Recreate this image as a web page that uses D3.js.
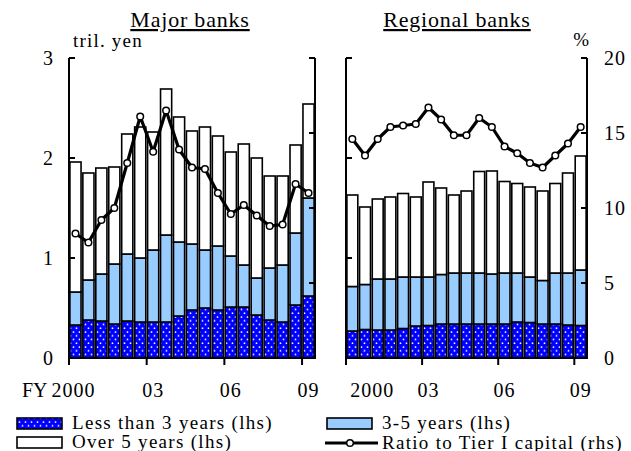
<!DOCTYPE html>
<html>
<head>
<meta charset="utf-8">
<script src="https://cdn.jsdelivr.net/npm/d3@7"></script>
<style>
  body { margin: 0; background: #fff; }
  svg text { font-family: "Liberation Serif", "Times New Roman", Tinos, serif; fill: #000; }
</style>
</head>
<body>
<svg id="chart" width="631" height="451"></svg>
<script>
// half-year periods, FY2000 H1 .. FY2009 H1
var periods = d3.range(19).map(function (i) { return (2000 + Math.floor(i / 2)) + (i % 2 ? "H2" : "H1"); });
var tickLabels = [{ i: 0, t: "2000" }, { i: 6, t: "03" }, { i: 12, t: "06" }, { i: 18, t: "09" }];

// Major banks (tril. yen)
var majorLt3  = [0.33, 0.38, 0.37, 0.34, 0.37, 0.36, 0.36, 0.36, 0.42, 0.48, 0.50, 0.48, 0.51, 0.51, 0.43, 0.38, 0.36, 0.53, 0.62];
var majorMid  = [0.33, 0.40, 0.47, 0.60, 0.67, 0.64, 0.72, 0.87, 0.74, 0.66, 0.58, 0.64, 0.51, 0.42, 0.37, 0.52, 0.57, 0.72, 0.98];
var majorOver = [1.30, 1.07, 1.06, 0.97, 1.20, 1.31, 1.18, 1.46, 1.25, 1.13, 1.23, 1.10, 1.04, 1.21, 1.20, 0.92, 0.89, 0.88, 0.94];
var majorRatio = [8.3, 7.7, 9.2, 10.0, 13.0, 16.1, 13.75, 16.5, 13.9, 12.7, 12.6, 11.0, 9.6, 10.2, 9.5, 8.8, 8.9, 11.6, 11.0];

// Regional banks (tril. yen)
var regLt3  = [0.27, 0.285, 0.28, 0.28, 0.295, 0.32, 0.325, 0.34, 0.34, 0.34, 0.34, 0.34, 0.34, 0.36, 0.355, 0.34, 0.34, 0.33, 0.325];
var regMid  = [0.445, 0.45, 0.51, 0.51, 0.515, 0.49, 0.485, 0.495, 0.51, 0.51, 0.51, 0.50, 0.51, 0.49, 0.455, 0.435, 0.51, 0.52, 0.555];
var regOver = [0.915, 0.775, 0.80, 0.82, 0.835, 0.80, 0.95, 0.865, 0.78, 0.82, 1.015, 1.03, 0.915, 0.895, 0.90, 0.895, 0.895, 1.00, 1.14];
var regRatio = [14.6, 13.5, 14.6, 15.4, 15.5, 15.6, 16.7, 15.9, 14.85, 14.85, 16.0, 15.4, 14.1, 13.65, 13.0, 12.7, 13.5, 14.3, 15.4];

var lhsTicks = [0, 1, 2, 3];
var rhsTicks = [0, 5, 10, 15, 20];

var svg = d3.select("#chart");
var defs = svg.append("defs");
var pat = defs.append("pattern")
    .attr("id", "dots")
    .attr("patternUnits", "userSpaceOnUse")
    .attr("width", 6).attr("height", 7.5);
pat.append("rect").attr("width", 6).attr("height", 7.5).attr("fill", "#0000ff");
pat.append("circle").attr("cx", 1.5).attr("cy", 2).attr("r", 0.9).attr("fill", "#fff");
pat.append("circle").attr("cx", 4.5).attr("cy", 5.75).attr("r", 0.9).attr("fill", "#fff");

var fills = ["url(#dots)", "#99ccff", "#ffffff"];
var plotTop = 58, plotBottom = 358;
var yL = d3.scaleLinear().domain([0, 3]).range([plotBottom, plotTop]);
var yR = d3.scaleLinear().domain([0, 20]).range([plotBottom, plotTop]);

function drawPanel(cfg) {
    var g = svg.append("g");
    var x = d3.scaleBand().domain(periods).range([cfg.x0, cfg.x1]).paddingInner(0.14).paddingOuter(0.07);
    var step = (cfg.x1 - cfg.x0) / periods.length;

    var rows = periods.map(function (p, i) {
        return { p: p, lt3: cfg.lt3[i], mid: cfg.mid[i], over: cfg.over[i] };
    });
    var series = d3.stack().keys(["lt3", "mid", "over"])(rows);

    g.selectAll("g.layer").data(series).enter().append("g")
        .attr("class", "layer")
        .attr("fill", function (d, i) { return fills[i]; })
      .selectAll("rect").data(function (d) { return d; }).enter().append("rect")
        .attr("x", function (d) { return x(d.data.p); })
        .attr("width", x.bandwidth())
        .attr("y", function (d) { return yL(d[1]); })
        .attr("height", function (d) { return yL(d[0]) - yL(d[1]); })
        .attr("stroke", "#000")
        .attr("stroke-width", 1.6);

    // axes: left, right, bottom
    var ax = g.append("g").attr("stroke", "#000").attr("stroke-width", 2);
    ax.append("line").attr("x1", cfg.x0).attr("x2", cfg.x0).attr("y1", plotTop).attr("y2", plotBottom);
    ax.append("line").attr("x1", cfg.x1).attr("x2", cfg.x1).attr("y1", plotTop).attr("y2", plotBottom);
    ax.append("line").attr("x1", cfg.x0 - 1).attr("x2", cfg.x1 + 1).attr("y1", plotBottom).attr("y2", plotBottom);
    ax.selectAll("line.tl").data(lhsTicks).enter().append("line")
        .attr("x1", cfg.x0).attr("x2", cfg.x0 + 6)
        .attr("y1", function (d) { return yL(d); }).attr("y2", function (d) { return yL(d); });
    ax.selectAll("line.tr").data(rhsTicks).enter().append("line")
        .attr("x1", cfg.x1).attr("x2", cfg.x1 - 6)
        .attr("y1", function (d) { return yR(d); }).attr("y2", function (d) { return yR(d); });
    ax.selectAll("line.tb").data(tickLabels).enter().append("line")
        .attr("x1", function (d) { return cfg.x0 + d.i * step; })
        .attr("x2", function (d) { return cfg.x0 + d.i * step; })
        .attr("y1", plotBottom).attr("y2", plotBottom + 7);

    // ratio line
    var line = d3.line()
        .x(function (d, i) { return x(periods[i]) + x.bandwidth() / 2; })
        .y(function (d) { return yR(d); });
    g.append("path").datum(cfg.ratio)
        .attr("d", line).attr("fill", "none")
        .attr("stroke", "#000").attr("stroke-width", 3.2).attr("stroke-linejoin", "round");
    g.selectAll("circle.pt").data(cfg.ratio).enter().append("circle")
        .attr("cx", function (d, i) { return x(periods[i]) + x.bandwidth() / 2; })
        .attr("cy", function (d) { return yR(d); })
        .attr("r", 3.3).attr("fill", "#fff").attr("stroke", "#000").attr("stroke-width", 1.5);

    // x labels
    g.selectAll("text.xl").data(tickLabels).enter().append("text")
        .attr("x", function (d) { return x(periods[d.i]) + x.bandwidth() / 2 + (d.i === 0 ? cfg.firstShift : 0); })
        .attr("y", 397)
        .attr("text-anchor", "middle")
        .style("font-size", "20px").style("letter-spacing", "1px")
        .text(function (d) { return d.t; });

    // title
    g.append("text").attr("x", cfg.titleX).attr("y", 27)
        .attr("text-anchor", "middle")
        .style("font-size", "22px").style("letter-spacing", "0.8px")
        .style("text-decoration", "underline")
        .text(cfg.title);
    return g;
}

drawPanel({ x0: 69, x1: 315, lt3: majorLt3, mid: majorMid, over: majorOver, ratio: majorRatio,
    title: "Major banks", titleX: 190, firstShift: -2 });
drawPanel({ x0: 346, x1: 587, lt3: regLt3, mid: regMid, over: regOver, ratio: regRatio,
    title: "Regional banks", titleX: 457, firstShift: 20 });

// y labels
svg.selectAll("text.yl").data(lhsTicks).enter().append("text")
    .attr("x", 53).attr("y", function (d) { return yL(d) + 7; })
    .attr("text-anchor", "end").style("font-size", "20px")
    .text(function (d) { return d; });
svg.selectAll("text.yr").data(rhsTicks).enter().append("text")
    .attr("x", 604).attr("y", function (d) { return yR(d) + 7; })
    .attr("text-anchor", "start").style("font-size", "20px").style("letter-spacing", "1px")
    .text(function (d) { return d; });

svg.append("text").attr("x", 73).attr("y", 47).style("font-size", "19px").style("letter-spacing", "1.2px").text("tril. yen");
svg.append("text").attr("x", 589).attr("y", 46).attr("text-anchor", "end").style("font-size", "19px").text("%");
svg.append("text").attr("x", 22).attr("y", 397).style("font-size", "20px").text("FY");

// legend
var legend = [
    { label: "Less than 3 years (lhs)", fill: fills[0], x: 17, y: 418 },
    { label: "3-5 years (lhs)", fill: fills[1], x: 327, y: 418 },
    { label: "Over 5 years (lhs)", fill: fills[2], x: 17, y: 437 }
];
var lg = svg.selectAll("g.lg").data(legend).enter().append("g").attr("class", "lg");
lg.append("rect")
    .attr("x", function (d) { return d.x; }).attr("y", function (d) { return d.y; })
    .attr("width", 45).attr("height", 11)
    .attr("fill", function (d) { return d.fill; })
    .attr("stroke", "#000").attr("stroke-width", 1.6);
lg.append("text")
    .attr("x", function (d) { return d.x + 55; }).attr("y", function (d) { return d.y + 11; })
    .style("font-size", "19px").style("letter-spacing", "1.3px")
    .text(function (d) { return d.label; });

svg.append("line").attr("x1", 325).attr("x2", 378).attr("y1", 443).attr("y2", 443)
    .attr("stroke", "#000").attr("stroke-width", 3.2);
svg.append("circle").attr("cx", 350).attr("cy", 443).attr("r", 3.3)
    .attr("fill", "#fff").attr("stroke", "#000").attr("stroke-width", 1.5);
svg.append("text").attr("x", 382).attr("y", 449)
    .style("font-size", "19px").style("letter-spacing", "1.3px")
    .text("Ratio to Tier I capital (rhs)");
</script>
</body>
</html>
